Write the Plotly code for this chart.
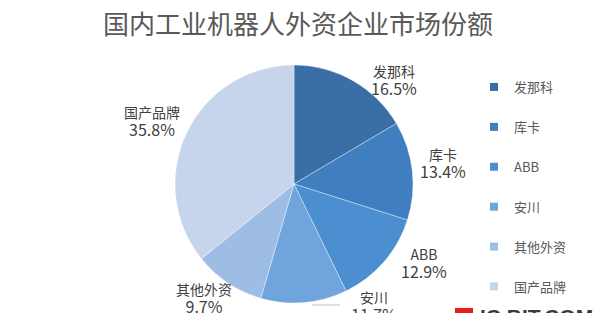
import plotly.graph_objects as go

title = "国内工业机器人外资企业市场份额"
categories = ["发那科", "库卡", "ABB", "安川", "其他外资", "国产品牌"]
shares = [16.5, 13.4, 12.9, 11.7, 9.7, 35.8]
colors = ["#3a6ea7", "#3f7fbf", "#4b8fd0", "#6fa4dc", "#9dbde4", "#c6d5eb"]
# label anchor positions (pixels) for each slice label
label_pos = [(394, 80), (443, 163), (424, 263), (374, 306), (204, 298), (152, 121)]

W, H = 597, 313
FONT = "Noto Sans CJK SC, Microsoft YaHei, sans-serif"

fig = go.Figure()
fig.add_trace(go.Pie(
    labels=categories, values=shares, sort=False, direction="clockwise", rotation=0,
    marker=dict(colors=colors, line=dict(color="rgba(255,255,255,0.6)", width=0.6)),
    textinfo="none", hoverinfo="label+percent", showlegend=False,
    domain=dict(x=[175 / W, 413 / W], y=[(H - 303) / H, (H - 65) / H]),
))

# legend entries via dummy traces so spacing can match
for i, (c, col) in enumerate(zip(categories, colors)):
    fig.add_trace(go.Scatter(
        x=[None], y=[None], mode="markers", name=c, legendgroup=f"g{i}",
        marker=dict(symbol="square", size=8, color=col), showlegend=True,
    ))

annotations = []
for c, v, (px, py) in zip(categories, shares, label_pos):
    annotations.append(dict(
        x=px / W, y=1 - py / H, xref="paper", yref="paper", showarrow=False,
        text=f"{c}<br><span style='font-size:16px'>{v:.1f}%</span>",
        align="center", xanchor="center", yanchor="middle",
        font=dict(family=FONT, size=14, color="#404040"),
    ))
annotations.append(dict(
    x=298 / W, y=1 - 22 / H, xref="paper", yref="paper", showarrow=False,
    text=title, xanchor="center", yanchor="middle",
    font=dict(family=FONT, size=26, color="#595959"),
))
annotations.append(dict(
    x=478 / W, y=1 - 316 / H, xref="paper", yref="paper", showarrow=False,
    text="<b>IC BIT.COM</b>", xanchor="left", yanchor="middle",
    font=dict(family="Liberation Sans, Arial", size=21, color="#3a3a3a"),
))

fig.update_layout(
    width=W, height=H, margin=dict(l=0, r=0, t=0, b=0),
    paper_bgcolor="white", plot_bgcolor="white",
    xaxis=dict(visible=False), yaxis=dict(visible=False),
    annotations=annotations,
    shapes=[
        dict(type="line", xref="paper", yref="paper", x0=312 / W, x1=340 / W,
             y0=1 - 305 / H, y1=1 - 305 / H, line=dict(color="#bfbfbf", width=1)),
        dict(type="rect", xref="paper", yref="paper", x0=455 / W, x1=473 / W,
             y0=1 - 313 / H, y1=1 - 308 / H, fillcolor="#e02020", line=dict(width=0)),
    ],
    legend=dict(x=474 / W, y=1 - 72 / H, xanchor="left", yanchor="top",
                font=dict(family=FONT, size=13, color="#595959"),
                tracegroupgap=20, itemwidth=30, bgcolor="rgba(0,0,0,0)"),
    showlegend=True,
)

fig.write_html("out.html")
